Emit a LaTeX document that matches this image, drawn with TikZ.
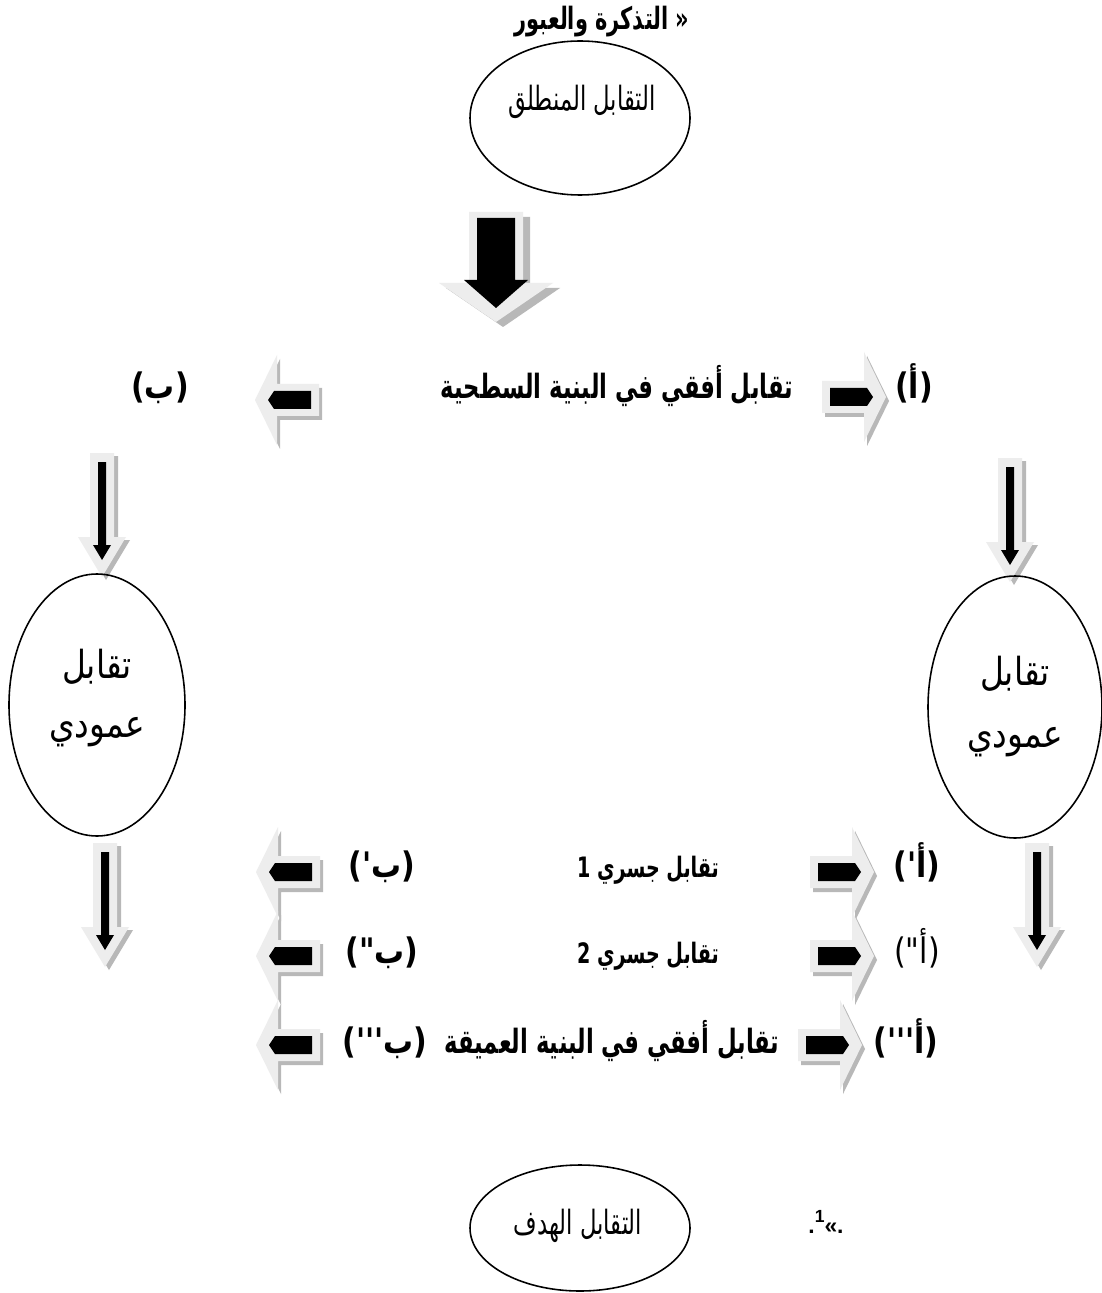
\documentclass[tikz,border=0pt]{standalone}
\usepackage{fontspec}
\setmainfont{Liberation Sans}
\TeXXeTstate=1
\newfontfamily\arabicfont[Script=Arabic,FakeStretch=0.85]{DejaVu Sans}
\newfontfamily\arabicnarrow[Script=Arabic,FakeStretch=0.68]{DejaVu Sans}
\usetikzlibrary{shapes.geometric}
\tikzset{
  shd/.style={fill=black!28},
  lite/.style={fill=black!7},
  rowtxt/.style={inner sep=0pt, anchor=base, font=\arabicnarrow\bfseries\fontsize{19}{22}\selectfont},
  rowtxts/.style={inner sep=0pt, anchor=base, font=\arabicnarrow\bfseries\fontsize{16}{19}\selectfont},
  rowlbl/.style={inner sep=0pt, anchor=base, font=\arabicfont\bfseries\fontsize{20}{24}\selectfont},
  rowlblr/.style={inner sep=0pt, anchor=base, font=\arabicfont\fontsize{20}{24}\selectfont},
  elltxt/.style={inner sep=0pt, font=\arabicnarrow\fontsize{19}{23}\selectfont},
  sidetxt/.style={inner sep=0pt, font=\arabicfont\fontsize{22}{26}\selectfont},
  ell/.style={draw=black, line width=0.9pt},
  rarr/.pic={
    \fill[shd,shift={(3,4)}] (-32,-16) -- (10,-16) -- (10,-45) -- (32,0) -- (10,45) -- (10,16) -- (-32,16) -- cycle;
    \fill[lite] (-32,-16) -- (10,-16) -- (10,-45) -- (32,0) -- (10,45) -- (10,16) -- (-32,16) -- cycle;
    \fill[black] (-24,-9) -- (13,-9) -- (19,0) -- (13,9) -- (-24,9) -- cycle;
  },
  larr/.pic={
    \fill[shd,shift={(3,4)},xscale=-1] (-32,-16) -- (10,-16) -- (10,-45) -- (32,0) -- (10,45) -- (10,16) -- (-32,16) -- cycle;
    \fill[lite,xscale=-1] (-32,-16) -- (10,-16) -- (10,-45) -- (32,0) -- (10,45) -- (10,16) -- (-32,16) -- cycle;
    \fill[black,xscale=-1] (-24,-9) -- (13,-9) -- (19,0) -- (13,9) -- (-24,9) -- cycle;
  },
  darr/.pic={
    \fill[shd,shift={(4,3)}] (-12,-62) -- (12,-62) -- (12,22) -- (24,22) -- (0,62) -- (-24,22) -- (-12,22) -- cycle;
    \fill[lite] (-12,-62) -- (12,-62) -- (12,22) -- (24,22) -- (0,62) -- (-24,22) -- (-12,22) -- cycle;
    \fill[black] (-4,-53) -- (4,-53) -- (4,30) -- (9,30) -- (0,45) -- (-9,30) -- (-4,30) -- cycle;
  },
  bigdarr/.pic={
    \fill[shd,shift={(7,5)}] (-27,-53) -- (27,-53) -- (27,18) -- (57,18) -- (0,57) -- (-57,18) -- (-27,18) -- cycle;
    \fill[lite] (-27,-53) -- (27,-53) -- (27,18) -- (57,18) -- (0,57) -- (-57,18) -- (-27,18) -- cycle;
    \fill[black] (-19,-47) -- (19,-47) -- (19,15) -- (32,15) -- (0,43) -- (-32,15) -- (-19,15) -- cycle;
  }
}
\begin{document}
\begin{tikzpicture}[x=0.02cm,y=-0.02cm]
\useasboundingbox[fill=white] (0,0) rectangle (1101,1293);

% title
\node[inner sep=0pt, font=\arabicnarrow\bfseries\fontsize{17.5}{21}\selectfont] (title) at (602,22) {\beginR التذكرة والعبور\endR\ «};

% top ellipse
\draw[ell] (580,118) ellipse [x radius=110, y radius=77];
\node[elltxt] (start) at (582,102) {\beginR التقابل المنطلق\endR};

% big arrow
\pic at (496,265) {bigdarr};

% row 1
\node[rowlbl] (a1) at (914,399) {(أ)};
\pic at (854,397) {rarr};
\node[rowtxt] (t1) at (617,399) {\beginR تقابل أفقي في البنية السطحية\endR};
\pic at (287,400) {larr};
\node[rowlbl] (b1) at (160,399) {(ب)};

% upper vertical arrows
\pic at (1010,520) {darr};
\pic at (102,515) {darr};

% side ellipses
\draw[ell] (97,705) ellipse [x radius=88, y radius=131];
\node[sidetxt] (lv1) at (97,667) {\beginR تقابل\endR};
\node[sidetxt] (lv2) at (97,732) {\beginR عمودي\endR};
\draw[ell] (1015,707) ellipse [x radius=87, y radius=131];
\node[sidetxt] (rv1) at (1015,674) {\beginR تقابل\endR};
\node[sidetxt] (rv2) at (1015,742) {\beginR عمودي\endR};

% lower vertical arrows
\pic at (1037,905) {darr};
\pic at (105,905) {darr};

% row A
\node[rowlbl] (a2) at (917,877) {(أ')};
\pic at (842,872) {rarr};
\node[rowtxts] (t2) at (648,877) {\beginR تقابل جسري 1\endR};
\node[rowlbl] (b2) at (382,877) {(ب')};
\pic at (288,872) {larr};

% row B
\node[rowlblr] (a3) at (917,963) {(أ")};
\pic at (842,956) {rarr};
\node[rowtxts] (t3) at (648,963) {\beginR تقابل جسري 2\endR};
\node[rowlbl] (b3) at (382,963) {(ب")};
\pic at (288,956) {larr};

% row C
\node[rowlbl] (a4) at (906,1053) {(أ''')};
\pic at (830,1045) {rarr};
\node[rowtxt] (t4) at (612,1053) {\beginR تقابل أفقي في البنية العميقة\endR};
\node[rowlbl] (b4) at (385,1053) {(ب''')};
\pic at (288,1045) {larr};

% bottom ellipse
\draw[ell] (580,1228) ellipse [x radius=110, y radius=63];
\node[elltxt] (goal) at (578,1226) {\beginR التقابل الهدف\endR};

% footnote mark
\node[inner sep=0pt, font=\bfseries\fontsize{13}{15}\selectfont] (fn) at (826,1222) {.\raisebox{0.45em}{\fontsize{10}{12}\selectfont 1}«.};
\end{tikzpicture}
\end{document}
